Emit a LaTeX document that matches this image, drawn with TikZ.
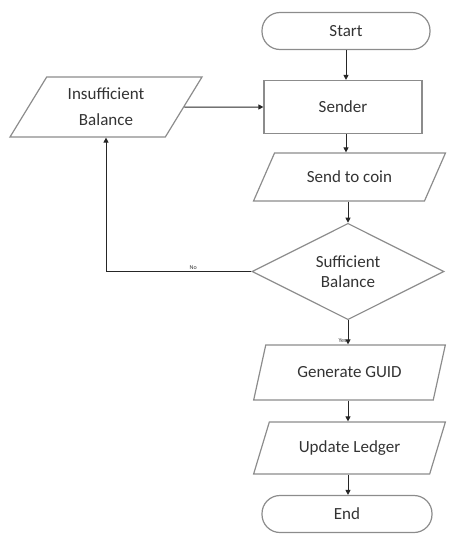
\documentclass[tikz,border=0pt]{standalone}
\usepackage{fontspec}
\setmainfont{Carlito}
\usetikzlibrary{shapes.geometric,arrows.meta}

\begin{document}
\begin{tikzpicture}[x=1pt, y=-1pt, font=\fontsize{17}{20}\selectfont, text=black!80,
    term/.style = {draw=black!45, line width=1.2pt, rectangle, rounded corners=18pt, minimum width=168pt, minimum height=37pt},
    proc/.style = {draw=black!45, line width=1.2pt, rectangle, minimum width=158pt, minimum height=53pt},
    io/.style = {draw=black!45, line width=1.2pt, trapezium, trapezium stretches=true, trapezium left angle=#1, trapezium right angle=180-#1, minimum width=192pt, minimum height=50pt, inner sep=0pt},
    cond/.style = {draw=black!45, line width=1.2pt, diamond, minimum width=192pt, minimum height=93pt, inner sep=0pt, align=center},
    flow/.style = {draw=black!85, line width=1pt, -{Triangle[length=5pt,width=5pt]}},
    small/.style = {font=\fontsize{6}{7}\selectfont, text=black!80, inner sep=1pt}]
    \useasboundingbox (0,0) rectangle (452,536);
    \node[term] (start) at (346,31) {Start};
    \node[proc] (sender) at (343,107) {Sender};
    \node[io=45, minimum height=48pt] (coin) at (349.5,177) {Send to coin};
    \node[cond] (check) at (348,271.5) {Sufficient\\Balance};
    \node[io=56, minimum height=55pt] (guid) at (349.5,372.5) {Generate GUID};
    \node[io=56, minimum height=52pt] (ledger) at (349.5,448) {Update Ledger};
    \node[term, minimum width=170pt] (end) at (347,514) {End};
    \node[io=58, minimum height=60pt, align=center] (insuf) at (106,107) {Insufficient\\[6pt]Balance};

\draw[flow] (start) -- (start |- sender.north);
\draw[flow] (start |- sender.south) -- (start |- coin.north);
\draw[flow] (check |- coin.south) -- (check.north);
\draw[flow] (check) -- (check |- guid.north) node[small, pos=0.85, left] {Yes};
\draw[flow] (check |- guid.south) -- (check |- ledger.north);
\draw[flow] (check |- ledger.south) -- (check |- end.north);
\draw[flow] (check.west) -| (insuf.south) node[small, pos=0.2, above] {No};
\draw[flow] (insuf) -- (sender);
\end{tikzpicture}
\end{document}
